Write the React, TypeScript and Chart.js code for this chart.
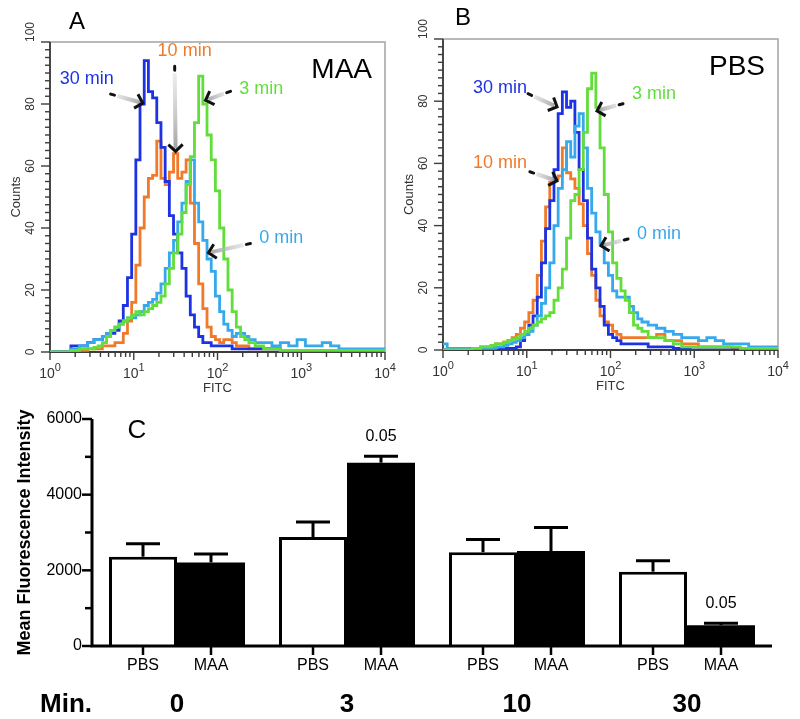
import React, { useEffect, useRef } from 'react';
import { Chart, registerables } from 'chart.js';

Chart.register(...registerables);

const FONT = '"Liberation Sans", Arial, Helvetica, sans-serif';
const DARK_BLUE = '#1d33e3';
const ORANGE = '#f07a2a';
const LIGHT_BLUE = '#35a9ec';
const GREEN = '#62de3a';

// FITC channel positions (log-spaced bins)
const FITC_CHANNELS = [1, 1.259, 1.585, 1.995, 2.512, 3.162, 3.548, 3.981, 4.467, 5.012,
  5.623, 6.31, 7.079, 7.943, 8.913, 10, 11.22, 12.59, 14.13, 15.85,
  17.78, 19.95, 22.39, 25.12, 28.18, 31.62, 35.48, 39.81, 44.67, 50.12,
  56.23, 63.1, 70.79, 79.43, 89.13, 100, 112.2, 125.9, 141.3, 158.5,
  177.8, 199.5, 223.9, 251.2, 316.2, 398.1, 501.2, 631, 794.3, 1000,
  1259, 1585, 1995, 2512, 3162, 3981, 5012, 6310, 7943, 10000];

// Panel A (MAA) counts per channel
const MAA_30 = [0, 0, 0, 2, 2, 3, 4, 4, 5, 6, 6, 7, 10, 15, 24, 38, 62, 80, 94, 84,
  82, 74, 66, 55, 44, 38, 32, 27, 18, 12, 8, 5, 3, 3, 2, 2, 2, 2, 2, 1,
  1, 1, 1, 1, 1, 1, 1, 0.5, 0.5, 0.5, 0, 0, 0, 0, 0, 0, 0, 0, 0, 0];
const MAA_10 = [0, 0, 0, 0, 0.5, 1, 1, 1, 2, 2, 2, 3, 3, 6, 10, 16, 28, 40, 50, 56,
  57, 68, 56, 54, 58, 64, 56, 58, 62, 48, 35, 22, 14, 8, 5, 4, 3, 4, 4, 3,
  2, 2, 2, 1, 1, 1, 1, 0.5, 0.5, 0.5, 0, 0, 0, 0, 0, 0, 0, 0, 0, 0];
const MAA_0 = [0, 0, 0, 1, 2, 3, 4, 4, 5, 6, 7, 8, 9, 10, 11, 11, 12, 13, 15, 16,
  17, 19, 22, 27, 32, 36, 42, 48, 55, 62, 48, 42, 36, 30, 26, 18, 13, 9, 7, 5,
  6, 6, 5, 4, 3, 3, 2, 3, 2, 4, 2, 2, 3, 2, 1, 1, 1, 1, 1, 1];
const MAA_3 = [0, 0, 0, 0.5, 1, 1, 1.5, 2, 3, 5, 7, 8, 9, 10, 11, 12, 13, 12, 13, 14,
  15, 16, 18, 22, 27, 32, 38, 45, 54, 63, 74, 89, 80, 70, 62, 52, 40, 30, 20, 13,
  8, 5, 4, 3, 2, 1, 1, 0.5, 0.5, 0.5, 0.5, 0.5, 0.5, 0.5, 0.5, 0.5, 0.5, 0.5, 0.5, 0.5];

// Panel B (PBS) counts per channel
const PBS_30 = [0, 0, 0, 0, 0, 0, 0, 0, 0, 0.5, 0.5, 0.5, 0.5, 1, 3, 5, 8, 11, 17, 28,
  39, 48, 58, 76, 83, 78, 80, 70, 58, 48, 36, 26, 20, 14, 8, 5, 4, 3, 2, 2,
  2, 2, 2, 2, 1, 1, 1, 0.5, 0.5, 0, 0, 0, 0, 0, 0, 0, 0, 0, 0, 0];
const PBS_10 = [0, 0, 0, 0, 0.5, 1, 1, 1.5, 2, 2, 2.5, 3, 4, 5, 7, 9, 12, 16, 24, 35,
  46, 54, 55, 56, 65, 57, 55, 52, 47, 40, 31, 24, 16, 11, 9, 8, 6, 5, 4, 4,
  4, 4, 4, 4, 4, 5, 3, 3, 2, 2, 1, 1, 1, 1, 0.5, 0.5, 0, 0, 0, 0];
const PBS_0 = [2, 0.5, 0.5, 0.5, 0.5, 0.5, 0.5, 0.5, 1, 1, 1.5, 2, 2.5, 3, 4, 5, 6, 8, 11, 15,
  20, 28, 40, 52, 58, 67, 62, 72, 76, 65, 52, 44, 38, 34, 28, 24, 19, 17, 17, 17,
  14, 12, 10, 9, 8, 7, 6, 5, 4, 4, 3, 4, 3, 2, 2, 2, 1, 1, 1, 1];
const PBS_3 = [0, 0, 0, 0, 0.5, 1, 1, 1.5, 2, 2, 2.5, 3, 3.5, 4, 5, 6, 7, 8, 9, 10,
  11, 12, 16, 20, 26, 36, 48, 50, 58, 70, 84, 89, 78, 65, 50, 38, 28, 23, 19, 16,
  12, 8, 7, 6, 4, 4, 3, 2, 1, 1, 1, 1, 1, 1, 1, 0.5, 0.5, 0.5, 0.5, 0.5];

// Panel C (bar chart)
const GROUPS = ['0', '3', '10', '30'];
const PBS_MFI = [2360, 2880, 2480, 1965];
const PBS_SEM = [345, 400, 335, 290];
const MAA_MFI = [2210, 4845, 2510, 550];
const MAA_SEM = [225, 170, 625, 50];
const P_VALUES = ['', '0.05', '', '0.05'];
const MFI_TICKS = [0, 2000, 4000, 6000];

const COUNT_TICKS = [0, 20, 40, 60, 80, 100];
const DECADES = [0, 1, 2, 3, 4];

type Label = { text: string; color: string; x: number; y: number };
type Arrow = { from: [number, number]; to: [number, number] };

function drawArrow(ctx: CanvasRenderingContext2D, x1: number, y1: number, x2: number, y2: number) {
  const dx = x2 - x1, dy = y2 - y1;
  const len = Math.hypot(dx, dy) || 1;
  const ux = dx / len, uy = dy / len;
  ctx.save();
  ctx.lineCap = 'round';
  ctx.strokeStyle = '#111';
  ctx.lineWidth = 3;
  ctx.beginPath();
  ctx.moveTo(x1, y1);
  ctx.lineTo(x1 + ux * 4, y1 + uy * 4);
  ctx.stroke();
  const g = ctx.createLinearGradient(x1, y1, x2, y2);
  g.addColorStop(0, 'rgba(225,225,225,0.5)');
  g.addColorStop(1, 'rgba(155,155,155,0.95)');
  ctx.strokeStyle = g;
  ctx.lineWidth = 4;
  ctx.lineCap = 'butt';
  ctx.beginPath();
  ctx.moveTo(x1 + ux * 7, y1 + uy * 7);
  ctx.lineTo(x2 - ux * 3, y2 - uy * 3);
  ctx.stroke();
  const bx = -ux, by = -uy, a = 0.8, L = 10;
  const c = Math.cos(a), s = Math.sin(a);
  ctx.strokeStyle = '#111';
  ctx.lineWidth = 3;
  ctx.lineJoin = 'miter';
  ctx.beginPath();
  ctx.moveTo(x2 + L * (bx * c - by * s), y2 + L * (bx * s + by * c));
  ctx.lineTo(x2, y2);
  ctx.lineTo(x2 + L * (bx * c + by * s), y2 + L * (-bx * s + by * c));
  ctx.stroke();
  ctx.restore();
}

type HistProps = {
  pos: { left: number; top: number; width: number; height: number };
  area: { left: number; top: number; right: number; bottom: number };
  series: { label: string; data: number[]; color: string }[];
  labels: Label[];
  arrows: Arrow[];
  condition: string;
  letter: string;
  letterPos: [number, number];
};

function Histogram(props: HistProps) {
  const ref = useRef<HTMLCanvasElement>(null);
  useEffect(() => {
    const { pos, area } = props;
    const decor = {
      id: 'histDecor',
      beforeDatasetsDraw(chart: any) {
        const ctx: CanvasRenderingContext2D = chart.ctx;
        const ca = chart.chartArea;
        const xs = chart.scales.x, ys = chart.scales.y;
        ctx.save();
        ctx.strokeStyle = '#a3a3a3';
        ctx.lineWidth = 1.5;
        ctx.strokeRect(ca.left, ca.top, ca.right - ca.left, ca.bottom - ca.top);
        ctx.strokeStyle = '#3c3c3c';
        ctx.lineWidth = 1.8;
        ctx.beginPath();
        ctx.moveTo(ca.left, ca.top);
        ctx.lineTo(ca.left, ca.bottom);
        ctx.lineTo(ca.right, ca.bottom);
        ctx.stroke();
        // y tick marks
        ctx.lineWidth = 1.4;
        for (let v = 0; v <= 100; v += 2.5) {
          const py = ys.getPixelForValue(v);
          const major = v % 20 === 0;
          ctx.beginPath();
          ctx.moveTo(ca.left, py);
          ctx.lineTo(ca.left - (major ? 9 : 5), py);
          ctx.stroke();
        }
        // x tick marks (log)
        for (let d = 0; d < 4; d++) {
          for (let m = 1; m <= 9; m++) {
            const px = xs.getPixelForValue(m * Math.pow(10, d));
            ctx.beginPath();
            ctx.moveTo(px, ca.bottom);
            ctx.lineTo(px, ca.bottom + (m === 1 ? 8 : 5));
            ctx.stroke();
          }
        }
        const pend = xs.getPixelForValue(10000);
        ctx.beginPath();
        ctx.moveTo(pend, ca.bottom);
        ctx.lineTo(pend, ca.bottom + 8);
        ctx.stroke();
        // x labels 10^k
        ctx.fillStyle = '#333';
        ctx.textBaseline = 'alphabetic';
        ctx.textAlign = 'left';
        DECADES.forEach((k) => {
          const px = xs.getPixelForValue(Math.pow(10, k));
          ctx.font = `14px ${FONT}`;
          const w1 = ctx.measureText('10').width;
          ctx.font = `11px ${FONT}`;
          const w2 = ctx.measureText(String(k)).width;
          const sx = px - (w1 + w2) / 2;
          ctx.font = `14px ${FONT}`;
          ctx.fillText('10', sx, ca.bottom + 26);
          ctx.font = `11px ${FONT}`;
          ctx.fillText(String(k), sx + w1, ca.bottom + 19);
        });
        ctx.font = `13px ${FONT}`;
        ctx.textAlign = 'center';
        ctx.textBaseline = 'middle';
        ctx.fillText('FITC', (ca.left + ca.right) / 2, ca.bottom + 36);
        // y labels rotated
        ctx.font = `12px ${FONT}`;
        COUNT_TICKS.forEach((v) => {
          const py = ys.getPixelForValue(v);
          ctx.save();
          ctx.translate(ca.left - 19, py);
          ctx.rotate(-Math.PI / 2);
          ctx.textAlign = v === 100 ? 'left' : 'center';
          ctx.textBaseline = 'middle';
          ctx.fillText(String(v), 0, 0);
          ctx.restore();
        });
        ctx.save();
        ctx.font = `13px ${FONT}`;
        ctx.translate(ca.left - 34, (ca.top + ca.bottom) / 2);
        ctx.rotate(-Math.PI / 2);
        ctx.textAlign = 'center';
        ctx.textBaseline = 'middle';
        ctx.fillText('Counts', 0, 0);
        ctx.restore();
        ctx.restore();
      },
      afterDraw(chart: any) {
        const ctx: CanvasRenderingContext2D = chart.ctx;
        const xs = chart.scales.x, ys = chart.scales.y;
        ctx.save();
        props.arrows.forEach((a) => {
          drawArrow(ctx, xs.getPixelForValue(a.from[0]), ys.getPixelForValue(a.from[1]),
            xs.getPixelForValue(a.to[0]), ys.getPixelForValue(a.to[1]));
        });
        ctx.font = `18px ${FONT}`;
        ctx.textAlign = 'center';
        ctx.textBaseline = 'middle';
        props.labels.forEach((l) => {
          ctx.fillStyle = l.color;
          ctx.fillText(l.text, xs.getPixelForValue(l.x), ys.getPixelForValue(l.y));
        });
        ctx.fillStyle = '#000';
        ctx.font = `28px ${FONT}`;
        ctx.textAlign = 'right';
        ctx.textBaseline = 'alphabetic';
        ctx.fillText(props.condition, xs.getPixelForValue(7000), ys.getPixelForValue(88.5));
        ctx.font = `24px ${FONT}`;
        ctx.textAlign = 'center';
        ctx.textBaseline = 'middle';
        ctx.fillText(props.letter, props.letterPos[0], props.letterPos[1]);
        ctx.restore();
      },
    };
    const chart = new Chart(ref.current as HTMLCanvasElement, {
      type: 'line',
      data: {
        datasets: props.series.map((s) => ({
          label: s.label,
          data: FITC_CHANNELS.map((c, i) => ({ x: c, y: s.data[i] })),
          borderColor: s.color,
          backgroundColor: s.color,
          borderWidth: 2.8,
          pointRadius: 0,
          stepped: 'middle',
          fill: false,
        })),
      } as any,
      options: {
        animation: false,
        responsive: false,
        maintainAspectRatio: false,
        layout: { padding: { left: 0, top: area.top, right: pos.width - area.right, bottom: 0 } },
        plugins: { legend: { display: false }, tooltip: { enabled: false } },
        scales: {
          x: {
            type: 'logarithmic', min: 1, max: 10000,
            grid: { display: false }, border: { display: false }, ticks: { display: false },
            afterFit: (s: any) => { s.height = pos.height - area.bottom; },
          },
          y: {
            type: 'linear', min: 0, max: 100,
            grid: { display: false }, border: { display: false }, ticks: { display: false },
            afterFit: (s: any) => { s.width = area.left; },
          },
        },
      } as any,
      plugins: [decor],
    });
    return () => chart.destroy();
  }, []);
  const { pos } = props;
  return (
    <canvas ref={ref} width={pos.width} height={pos.height}
      style={{ position: 'absolute', left: pos.left, top: pos.top, width: pos.width, height: pos.height }} />
  );
}

function BarPanel() {
  const ref = useRef<HTMLCanvasElement>(null);
  useEffect(() => {
    const W = 800, H = 319;
    const area = { left: 92, top: 19, right: 772, bottom: 246 };
    const decor = {
      id: 'barDecor',
      afterDatasetsDraw(chart: any) {
        const ctx: CanvasRenderingContext2D = chart.ctx;
        const ca = chart.chartArea;
        const xs = chart.scales.x, ys = chart.scales.y;
        ctx.save();
        ctx.strokeStyle = '#000';
        ctx.fillStyle = '#000';
        // error bars + p values
        chart.data.datasets.forEach((ds: any, di: number) => {
          const meta = chart.getDatasetMeta(di);
          meta.data.forEach((bar: any, i: number) => {
            const v = ds.data[i], e = ds.sem[i];
            const base = ys.getPixelForValue(v);
            const top = ys.getPixelForValue(v + e);
            const half = bar.width / 4;
            ctx.lineWidth = 3;
            ctx.beginPath();
            ctx.moveTo(bar.x, base);
            ctx.lineTo(bar.x, top);
            ctx.stroke();
            ctx.beginPath();
            ctx.moveTo(bar.x - half, top);
            ctx.lineTo(bar.x + half, top);
            ctx.stroke();
            if (ds.pvals && ds.pvals[i]) {
              ctx.font = `16px ${FONT}`;
              ctx.textAlign = 'center';
              ctx.textBaseline = 'alphabetic';
              ctx.fillText(ds.pvals[i], bar.x, top - 15);
            }
            // x tick + label
            ctx.lineWidth = 2.5;
            ctx.beginPath();
            ctx.moveTo(bar.x, ca.bottom);
            ctx.lineTo(bar.x, ca.bottom + 9);
            ctx.stroke();
            ctx.font = `16px ${FONT}`;
            ctx.textAlign = 'center';
            ctx.textBaseline = 'middle';
            ctx.fillText(ds.label, bar.x, ca.bottom + 20);
          });
        });
        // axes
        ctx.lineWidth = 3;
        ctx.beginPath();
        ctx.moveTo(ca.left, ca.top);
        ctx.lineTo(ca.left, ca.bottom);
        ctx.lineTo(ca.right, ca.bottom);
        ctx.stroke();
        ctx.lineWidth = 2.5;
        for (let v = 0; v <= 6000; v += 1000) {
          const py = ys.getPixelForValue(v);
          const major = MFI_TICKS.includes(v);
          ctx.beginPath();
          ctx.moveTo(ca.left, py);
          ctx.lineTo(ca.left - (major ? 10 : 7), py);
          ctx.stroke();
        }
        ctx.font = `16px ${FONT}`;
        ctx.textAlign = 'right';
        ctx.textBaseline = 'middle';
        MFI_TICKS.forEach((v) => ctx.fillText(String(v), ca.left - 10, ys.getPixelForValue(v)));
        // group labels
        ctx.font = `bold 26px ${FONT}`;
        ctx.textAlign = 'center';
        ctx.textBaseline = 'alphabetic';
        GROUPS.forEach((g, i) => ctx.fillText(g, xs.getPixelForValue(i), ca.bottom + 66));
        ctx.textAlign = 'left';
        ctx.fillText('Min.', 40, ca.bottom + 66);
        // y title
        ctx.save();
        ctx.font = `bold 18px ${FONT}`;
        ctx.translate(25, (ca.top + ca.bottom) / 2);
        ctx.rotate(-Math.PI / 2);
        ctx.textAlign = 'center';
        ctx.textBaseline = 'middle';
        ctx.fillText('Mean Fluorescence Intensity', 0, 0);
        ctx.restore();
        // panel letter
        ctx.font = `26px ${FONT}`;
        ctx.textAlign = 'center';
        ctx.textBaseline = 'middle';
        ctx.fillText('C', 137, 31);
        ctx.restore();
      },
    };
    const chart = new Chart(ref.current as HTMLCanvasElement, {
      type: 'bar',
      data: {
        labels: GROUPS,
        datasets: [
          { label: 'PBS', data: PBS_MFI, sem: PBS_SEM, pvals: ['', '', '', ''], backgroundColor: '#ffffff', borderColor: '#000000', borderWidth: 3, borderSkipped: 'bottom', categoryPercentage: 0.8, barPercentage: 1.0 },
          { label: 'MAA', data: MAA_MFI, sem: MAA_SEM, pvals: P_VALUES, backgroundColor: '#000000', borderColor: '#000000', borderWidth: 0, categoryPercentage: 0.8, barPercentage: 1.0 },
        ],
      } as any,
      options: {
        animation: false,
        responsive: false,
        maintainAspectRatio: false,
        layout: { padding: { left: 0, top: area.top, right: W - area.right, bottom: 0 } },
        plugins: { legend: { display: false }, tooltip: { enabled: false } },
        scales: {
          x: {
            grid: { display: false }, border: { display: false }, ticks: { display: false },
            afterFit: (s: any) => { s.height = H - area.bottom; },
          },
          y: {
            min: 0, max: 6000,
            grid: { display: false }, border: { display: false }, ticks: { display: false, stepSize: 1000 },
            afterFit: (s: any) => { s.width = area.left; },
          },
        },
      } as any,
      plugins: [decor],
    });
    return () => chart.destroy();
  }, []);
  return (
    <canvas ref={ref} width={800} height={319}
      style={{ position: 'absolute', left: 0, top: 400, width: 800, height: 319 }} />
  );
}

export default function App() {
  return (
    <div style={{ position: 'absolute', left: 0, top: 0, width: 800, height: 719, background: '#ffffff', overflow: 'hidden' }}>
      <Histogram
        pos={{ left: 0, top: 0, width: 400, height: 400 }}
        area={{ left: 50, top: 42, right: 385, bottom: 352 }}
        series={[
          { label: '3 min', data: MAA_3, color: GREEN },
          { label: '0 min', data: MAA_0, color: LIGHT_BLUE },
          { label: '30 min', data: MAA_30, color: DARK_BLUE },
          { label: '10 min', data: MAA_10, color: ORANGE },
        ]}
        labels={[
          { text: '30 min', color: DARK_BLUE, x: 2.75, y: 88 },
          { text: '10 min', color: ORANGE, x: 40.5, y: 97 },
          { text: '3 min', color: GREEN, x: 334, y: 84.8 },
          { text: '0 min', color: LIGHT_BLUE, x: 578, y: 36.9 },
        ]}
        arrows={[
          { from: [5.3, 83.2], to: [12.8, 80.3] },
          { from: [30.8, 92.2], to: [31.6, 64.7] },
          { from: [143, 84.1], to: [72, 81.2] },
          { from: [247, 35], to: [78, 32] },
        ]}
        condition="MAA"
        letter="A"
        letterPos={[77, 22]}
      />
      <Histogram
        pos={{ left: 400, top: 0, width: 400, height: 400 }}
        area={{ left: 43, top: 39, right: 378, bottom: 350 }}
        series={[
          { label: '3 min', data: PBS_3, color: GREEN },
          { label: '0 min', data: PBS_0, color: LIGHT_BLUE },
          { label: '30 min', data: PBS_30, color: DARK_BLUE },
          { label: '10 min', data: PBS_10, color: ORANGE },
        ]}
        labels={[
          { text: '30 min', color: DARK_BLUE, x: 4.8, y: 84.3 },
          { text: '3 min', color: GREEN, x: 330, y: 82.4 },
          { text: '10 min', color: ORANGE, x: 4.8, y: 60.2 },
          { text: '0 min', color: LIGHT_BLUE, x: 379, y: 37.3 },
        ]}
        arrows={[
          { from: [10.35, 82.4], to: [23, 78.2] },
          { from: [141, 79.2], to: [69, 76.9] },
          { from: [10.9, 57.3], to: [23, 54.4] },
          { from: [162, 35.7], to: [77, 33.5] },
        ]}
        condition="PBS"
        letter="B"
        letterPos={[63, 18]}
      />
      <BarPanel />
    </div>
  );
}
